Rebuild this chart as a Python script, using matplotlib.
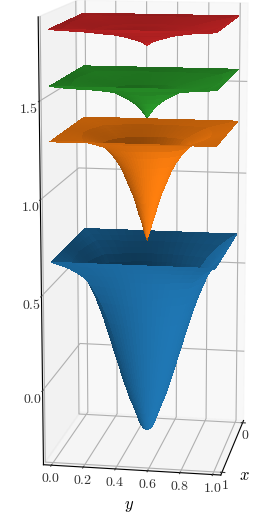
import numpy as np
import matplotlib
matplotlib.use('Agg')
import matplotlib.pyplot as plt

plt.rcParams['mathtext.fontset'] = 'cm'
plt.rcParams['font.family'] = 'serif'
plt.rcParams['font.serif'] = ['cmr10', 'DejaVu Serif']
plt.rcParams['axes.formatter.use_mathtext'] = True

# distance from the centre of the unit square, and height above the tip read at it
offsets = [0, .005, .01, .02, .03, .05, .07, .09, .11, .13, .15, .175, .2, .225, .25, .275, .3, .325, .35, .375, .4, .425, .45, .475, .5]
blue_rise = [0, .001, .003, .008, .016, .05, .095, .14, .18, .23, .28, .35, .42, .49, .56, .63, .69, .75, .80, .85, .89, .92, .95, .975, 1.0]
orange_rise = [0, .016, .03, .055, .09, .14, .20, .25, .29, .33, .37, .41, .44, .47, .49, .51, .52, .53, .54, .55, .56, .565, .57, .575, .58]
green_rise = [0, .006, .012, .025, .035, .055, .07, .085, .095, .105, .115, .125, .135, .145, .15, .155, .16, .165, .17, .175, .18, .185, .19, .20, .21]
red_rise = [0, .003, .006, .012, .018, .025, .03, .035, .04, .045, .05, .055, .06, .065, .07, .074, .077, .08, .085, .09, .095, .10, .105, .11, .12]
angles = np.arange(360, -5, -5)

blue_tip = -0.33
orange_tip = 0.71
green_tip = 1.36
red_tip = 1.735

yticks = [0.0, 0.2, 0.4, 0.6, 0.8, 1.0]
xticks = [0, 1]
zticks = [0.0, 0.5, 1.0, 1.5]


def surface(ax, rise, tip, color, order):
    # rings go from round at the centre to the square border of the plate
    off = np.array(offsets)
    theta = np.radians(angles)
    edge = 1 / np.maximum(np.abs(np.cos(theta)), np.abs(np.sin(theta)))
    blend = (off / 0.5) ** 4
    stretch = 1 - blend[:, None] + blend[:, None] * edge[None, :]
    X = 0.5 + off[:, None] * stretch * np.cos(theta)
    Y = 0.5 + off[:, None] * stretch * np.sin(theta)
    Z = tip + np.array(rise)[:, None] * np.ones_like(theta)
    surf = ax.plot_surface(X, Y, Z, color=color, linewidth=0, antialiased=False,
                           rcount=len(off), ccount=len(theta), zorder=order)
    surf.set_clip_on(False)
    return surf


fig = plt.figure(figsize=(2.79, 5.18), dpi=100)
ax = fig.add_axes([-0.125, 0.03, 1.27, 1.03], projection='3d', computed_zorder=False)
ax.set_box_aspect((1, 1, 2.5), zoom=1.39)
ax.view_init(elev=12, azim=10)

surface(ax, blue_rise, blue_tip, 'C0', 11)
surface(ax, orange_rise, orange_tip, 'C1', 12)
surface(ax, green_rise, green_tip, 'C2', 13)
surface(ax, red_rise, red_tip, 'C3', 14)

ax.set_xlim(-0.05, 1.05)
ax.set_ylim(-0.05, 1.05)
ax.set_zlim(-0.40, 1.92)

ax.set_xticks(xticks)
ax.set_xticklabels([f'${t}$' for t in xticks])
ax.set_yticks(yticks)
ax.set_yticklabels([f'${t:.1f}$' for t in yticks])
ax.set_zticks(zticks)
ax.set_zticklabels([f'${t:.1f}$' for t in zticks])
ax.tick_params(labelsize=10, colors='#333333')
ax.tick_params(axis='z', pad=-2)
ax.tick_params(axis='x', pad=-6)
ax.tick_params(axis='y', pad=-6)
ax.set_xlabel('$x$', fontsize=12, labelpad=-12)
ax.set_ylabel('$y$', fontsize=12, labelpad=-11)

fig.savefig('out.png', dpi=100)
